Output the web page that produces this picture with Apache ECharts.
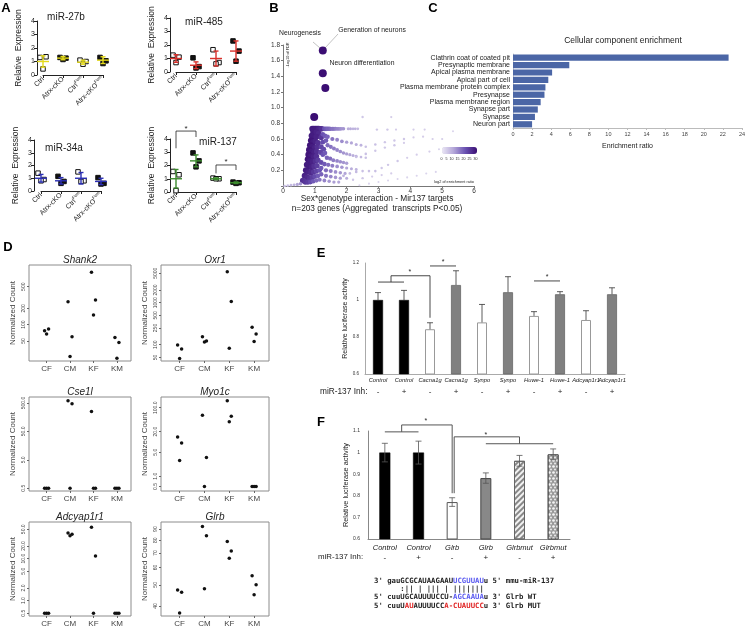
<!DOCTYPE html>
<html>
<head>
<meta charset="utf-8">
<script src="https://cdn.jsdelivr.net/npm/echarts@6/dist/echarts.min.js"></script>
<style>
html, body { margin: 0; padding: 0; background: #fff; }
#chart { width: 748px; height: 629px; }
</style>
</head>
<body>
<div id="chart"></div>
<script>
// ---------- A: miRNA expression (3 replicates per group)
const aGroups = ['Ctrl', 'Atrx-cKO', 'Ctrl{s|Fem}', 'Atrx-cKO{s|Fem}'];
const mir27b = [[1.3, 1.35, 0.45], [1.3, 1.25, 1.15], [1.1, 1.0, 0.8], [1.3, 1.05, 0.85]];
const mir27bMean = [1.0, 1.25, 0.95, 1.1];
const mir27bSd = [0.42, 0.12, 0.15, 0.25];
const mir485 = [[1.25, 1.1, 0.7], [1.05, 0.4, 0.3], [1.65, 0.7, 0.6], [2.3, 1.55, 0.8]];
const mir485Mean = [1.0, 0.5, 1.0, 1.55];
const mir485Sd = [0.28, 0.25, 0.55, 0.75];
const mir34a = [[1.4, 0.9, 0.8], [1.15, 0.75, 0.6], [1.5, 0.8, 0.75], [1.05, 0.6, 0.55]];
const mir34aMean = [1.0, 0.8, 1.0, 0.75];
const mir34aSd = [0.3, 0.25, 0.45, 0.25];
const mir137 = [[1.55, 1.3, 0.1], [2.95, 2.35, 1.9], [1.05, 1.0, 1.0], [0.75, 0.7, 0.65]];
const mir137Mean = [1.0, 2.35, 1.0, 0.7];
const mir137Sd = [0.7, 0.45, 0.07, 0.06];

// ---------- B: GO enrichment (enrichment ratio, -log10 FDR, count)
const bLabelled = [[1.25, 1.73, 30], [1.25, 1.44, 30], [1.33, 1.25, 30], [0.98, 0.88, 30]];
const bCloud = [
  [0.92,0.73,28],[0.97,0.73,28],[1.02,0.73,28],[1.07,0.73,28],[1.12,0.73,27],[1.17,0.73,26],[1.22,0.73,25],
  [0.95,0.69,28],[1.0,0.67,28],[1.05,0.69,27],[1.12,0.67,26],
  [0.9,0.64,28],[0.97,0.62,28],[1.05,0.63,27],[1.2,0.62,24],
  [0.88,0.58,29],[0.95,0.56,28],[1.02,0.57,27],[1.1,0.55,25],
  [0.85,0.52,29],[0.92,0.5,28],[1.0,0.49,27],[1.08,0.5,25],
  [0.82,0.46,29],[0.9,0.44,28],[0.98,0.43,27],[1.06,0.44,25],
  [0.8,0.4,29],[0.88,0.38,28],[0.96,0.37,27],[1.05,0.38,25],
  [0.78,0.34,29],[0.85,0.32,28],[0.93,0.31,27],[1.02,0.32,25],[1.1,0.33,23],
  [0.75,0.27,28],[0.83,0.25,28],[0.9,0.24,27],[0.98,0.25,25],[1.07,0.26,23],
  [0.72,0.2,28],[0.8,0.18,27],[0.88,0.17,26],[0.96,0.18,24],[1.05,0.19,22],[1.15,0.2,20],
  [0.68,0.13,27],[0.76,0.11,26],[0.84,0.1,25],[0.92,0.11,23],[1.0,0.12,21],[1.1,0.13,19],
  [0.62,0.07,25],[0.7,0.05,24],[0.78,0.05,23],[0.86,0.05,21],[0.95,0.06,19],[1.05,0.07,17],
  [0.05,0,6],[0.15,0.005,6],[0.25,0.01,7],[0.35,0.015,8],[0.45,0.02,10],[0.55,0.03,12],
  [1.3,0.73,20],[1.35,0.73,19],[1.4,0.73,18],[1.45,0.73,18],[1.5,0.73,17],[1.55,0.73,16],[1.6,0.73,16],
  [1.65,0.73,15],[1.7,0.73,14],[1.75,0.73,14],[1.8,0.73,13],[1.85,0.73,12],[1.9,0.73,12],
  [2.05,0.73,9],[2.12,0.73,9],[2.2,0.73,8],[2.27,0.73,8],[2.35,0.73,7],
  [2.95,0.72,5],[3.28,0.72,5],[3.55,0.72,4],[4.1,0.72,4],[4.45,0.72,4],
  [2.5,0.88,5],[3.4,0.88,4],
  [1.25,0.66,20],[1.32,0.64,19],[1.4,0.63,18],[1.25,0.56,21],[1.35,0.58,19],
  [1.2,0.5,22],[1.28,0.47,21],[1.18,0.43,22],[1.25,0.4,20],[1.32,0.42,19],
  [1.4,0.52,17],[1.5,0.5,16],[1.6,0.48,15],[1.7,0.46,14],[1.8,0.44,13],[1.9,0.42,12],[2.0,0.41,11],
  [2.1,0.4,10],[2.2,0.39,9],[2.3,0.38,8],[2.45,0.37,7],[2.6,0.36,6],
  [1.38,0.36,18],[1.48,0.35,17],[1.58,0.33,15],[1.7,0.32,14],[1.8,0.31,13],[1.9,0.3,12],[2.0,0.29,11],
  [1.2,0.3,21],[1.3,0.28,19],[1.42,0.27,17],[1.55,0.26,15],[1.7,0.25,13],[1.85,0.24,12],[2.0,0.23,10],
  [2.15,0.22,9],[2.3,0.21,8],
  [1.2,0.23,19],[1.35,0.2,17],[1.5,0.19,15],[1.65,0.18,13],[1.8,0.17,12],[1.95,0.16,10],
  [1.2,0.15,18],[1.35,0.13,16],[1.5,0.12,14],[1.65,0.11,12],[1.8,0.1,11],[2.0,0.1,9],
  [1.15,0.08,16],[1.3,0.07,14],[1.45,0.06,12],[1.6,0.05,11],[1.75,0.05,10],
  [1.55,0.6,16],[1.7,0.59,14],[1.85,0.57,13],[2.0,0.56,11],[2.15,0.55,10],[2.3,0.53,9],[2.45,0.52,8],
  [2.6,0.5,6],[2.9,0.53,6],[3.2,0.56,5],[3.5,0.58,5],[3.8,0.6,5],[4.1,0.62,4],[4.4,0.63,4],[4.7,0.6,4],[5.0,0.6,4],[5.34,0.7,3],
  [2.3,0.37,6],[2.6,0.41,6],[2.9,0.45,5],[3.2,0.49,5],[3.5,0.52,5],[3.8,0.55,4],
  [1.9,0.13,8],[2.1,0.16,7],[2.3,0.18,7],[2.5,0.19,6],[2.7,0.19,6],[2.9,0.19,6],[3.1,0.23,5],[3.3,0.27,5],
  [3.6,0.32,5],[3.9,0.36,4],[4.2,0.4,4],[4.6,0.44,4],[4.9,0.47,3],
  [2.2,0.08,5],[2.5,0.1,5],[2.8,0.12,4],[3.1,0.14,4],[3.4,0.16,4],
  [2.4,0.01,3],[2.7,0.03,3],[3.0,0.05,3],[3.3,0.07,3],[3.6,0.09,3],[3.9,0.11,3],[4.2,0.13,3],[4.5,0.16,3],[4.8,0.18,3]
];

// ---------- C: cellular component enrichment
const cTerms = ['Clathrin coat of coated pit', 'Presynaptic membrane', 'Apical plasma membrane', 'Apical part of cell',
  'Plasma membrane protein complex', 'Presynapse', 'Plasma membrane region', 'Synapse part', 'Synapse', 'Neuron part'];
const cRatio = [22.6, 5.9, 4.1, 3.7, 3.4, 3.3, 2.9, 2.6, 2.3, 2.0];

// ---------- D: normalized counts per group (3 samples)
const dGroups = ['CF', 'CM', 'KF', 'KM'];
const shank2 = [[77, 83, 67], [265, 60, 26], [920, 285, 151], [58, 47, 24]];
const oxr1 = [[98, 79, 47], [155, 122, 116], [5480, 1060, 82], [260, 180, 120]];
const cse1l = [[0.5, 0.5, 0.5], [600, 470, 0.5], [250, 0.5, 0.5], [0.5, 0.5, 0.5]];
const myo1c = [[14, 9.4, 2.9], [60, 3.5, 0.5], [161, 56, 39], [0.5, 0.5, 0.5]];
const adcyap1r1 = [[0.5, 0.5, 0.5], [41, 38, 35], [56, 11.6, 0.5], [0.5, 0.5, 0.5]];
const glrb = [[47.3, 46.2, 37.2], [92.6, 84, 48], [78.9, 71.4, 66.1], [55, 50, 45]];
const shank2Ticks = [50, 100, 200, 500];
const oxr1Ticks = [50, 100, 250, 500, 1000, 2000, 5000];
const cse1lTicks = [0.5, 5, 50, 500];
const myo1cTicks = [0.5, 1, 5, 20, 100];
const adcyap1r1Ticks = [0.5, 1, 2, 5, 10, 20, 50];
const glrbTicks = [40, 50, 60, 70, 80, 90];

// ---------- E: luciferase, miR-137 inhibitor
const eLabels = ['Control', 'Control', 'Cacna1g', 'Cacna1g', 'Synpo', 'Synpo', 'Huwe-1', 'Huwe-1', 'Adcyap1r1', 'Adcyap1r1'];
const eInh = ['-', '+', '-', '+', '-', '+', '-', '+', '-', '+'];
const eValue = [1.0, 1.0, 0.842, 1.081, 0.879, 1.042, 0.914, 1.031, 0.892, 1.031];
const eErr = [0.04, 0.052, 0.035, 0.077, 0.097, 0.084, 0.023, 0.014, 0.05, 0.035];

// ---------- F: luciferase, Glrb 3'UTR
const fLabels = ['Control', 'Control', 'Glrb', 'Glrb', 'Glrbmut', 'Glrbmut'];
const fInh = ['-', '+', '-', '+', '-', '+'];
const fValue = [1.0, 1.0, 0.771, 0.882, 0.962, 0.992];
const fErr = [0.043, 0.053, 0.02, 0.024, 0.025, 0.025];

const FONT = '"Liberation Sans", Arial, sans-serif';
const MONO = '"DejaVu Sans Mono", monospace';

const chart = echarts.init(document.getElementById('chart'));

const grids = [], xAxes = [], yAxes = [], series = [], graphics = [];

function text(x, y, s, size, opts) {
  const o = opts || {};
  return {
    type: 'text', x: x, y: y, rotation: o.rotation || 0, silent: true,
    style: {
      text: s, fill: o.color || '#222',
      font: (o.style || '') + ' ' + (o.weight || 'normal') + ' ' + size + 'px ' + (o.family || FONT),
      textAlign: o.align || 'center', textVerticalAlign: 'middle', rich: o.rich
    }
  };
}

// bracket points may sit between categories: interpolate between neighbours
function pt(api, p) {
  const i0 = Math.floor(p[0]), t = p[0] - i0;
  const a = api.coord([i0, p[1]]);
  if (t === 0) return a;
  const b = api.coord([i0 + 1, p[1]]);
  return [a[0] + (b[0] - a[0]) * t, a[1]];
}

function bracketSeries(ax, lines, stars, color, lw, starSize) {
  return {
    type: 'custom', xAxisIndex: ax, yAxisIndex: ax, z: 6, silent: true, clip: false,
    data: [[0, lines[0][0][1]]],
    renderItem: function (params, api) {
      const children = lines.map(l => ({
        type: 'polyline', shape: { points: l.map(p => pt(api, p)) },
        style: { stroke: color, lineWidth: lw, fill: null }
      }));
      stars.forEach(s => {
        const c = pt(api, s);
        children.push({ type: 'text', x: c[0], y: c[1],
          style: { text: '*', fill: '#222', font: starSize + 'px ' + FONT, textAlign: 'center', textVerticalAlign: 'middle' } });
      });
      return { type: 'group', children: children };
    }
  };
}

function errSeries(ax, means, errs, o) {
  return {
    type: 'custom', xAxisIndex: ax, yAxisIndex: ax, z: 5, silent: true,
    data: means.map((m, i) => [i, m, errs[i]]),
    renderItem: function (params, api) {
      const i = api.value(0), m = api.value(1), e = api.value(2);
      const top = api.coord([i, m + e]);
      const bot = api.coord([i, o.upOnly ? m : m - e]);
      const st = { stroke: o.color, lineWidth: o.lw };
      const ch = [
        { type: 'line', shape: { x1: top[0], y1: top[1], x2: bot[0], y2: bot[1] }, style: st },
        { type: 'line', shape: { x1: top[0] - o.cap, y1: top[1], x2: top[0] + o.cap, y2: top[1] }, style: st }
      ];
      if (!o.upOnly) ch.push({ type: 'line', shape: { x1: bot[0] - o.cap, y1: bot[1], x2: bot[0] + o.cap, y2: bot[1] }, style: st });
      if (o.mean) {
        const c = api.coord([i, m]);
        ch.push({ type: 'line', shape: { x1: c[0] - o.mean, y1: c[1], x2: c[0] + o.mean, y2: c[1] }, style: st });
      }
      return { type: 'group', children: ch };
    }
  };
}

// ================= A
const aPanels = [
  { name: 'miR-27b', color: '#e4da1a', pts: mir27b, mean: mir27bMean, sd: mir27bSd, grid: { left: 43, top: 21, width: 60, height: 54 }, off: 6, title: [66, 17] },
  { name: 'miR-485', color: '#d9302b', pts: mir485, mean: mir485Mean, sd: mir485Sd, grid: { left: 176, top: 18, width: 60, height: 54 }, off: 6, title: [204, 22] },
  { name: 'miR-34a', color: '#2b2fb5', pts: mir34a, mean: mir34aMean, sd: mir34aSd, grid: { left: 41, top: 140, width: 60, height: 51 }, off: 7, title: [64, 148] },
  { name: 'miR-137', color: '#3d8b2e', pts: mir137, mean: mir137Mean, sd: mir137Sd, grid: { left: 176, top: 139, width: 60, height: 53 }, off: 6, title: [218, 142] }
];
const jit = [[-3, 0], [3, 0], [0, 0]];
aPanels.forEach(p => {
  const k = grids.length;
  grids.push(p.grid);
  xAxes.push({
    gridIndex: k, type: 'category', data: aGroups, boundaryGap: false,
    axisLine: { lineStyle: { color: '#222', width: 1 } },
    axisTick: { show: true, length: 3, lineStyle: { color: '#222' } },
    axisLabel: { rotate: 45, fontSize: 7, color: '#222', margin: 3, interval: 0, fontFamily: FONT,
      rich: { s: { fontSize: 4.5, padding: [0, 0, 5, 0], fontFamily: FONT, color: '#222' } } }
  });
  yAxes.push({
    gridIndex: k, type: 'value', min: 0, max: 4, interval: 1, offset: p.off,
    axisLine: { show: true, lineStyle: { color: '#222', width: 1 } },
    axisTick: { show: true, length: 3, lineStyle: { color: '#222' } },
    axisLabel: { fontSize: 7, color: '#222', margin: 2, fontFamily: FONT },
    splitLine: { show: false },
    name: 'Relative  Expression', nameLocation: 'middle', nameGap: 14,
    nameTextStyle: { fontSize: 8.5, color: '#222', fontFamily: FONT }
  });
  for (let r = 0; r < 3; r++) {
    series.push({
      type: 'scatter', xAxisIndex: k, yAxisIndex: k, symbol: 'rect', symbolSize: 4.5, symbolOffset: jit[r], z: 3,
      data: p.pts.map(g => g[r]),
      itemStyle: { color: params => (params.dataIndex % 2 ? '#111' : '#fff'), borderColor: '#111', borderWidth: 1, opacity: 1 }
    });
  }
  series.push(errSeries(k, p.mean, p.sd, { color: p.color, lw: 1.4, cap: 2.5, mean: 6 }));
  graphics.push(text(p.title[0], p.title[1], p.name, 10));
});
series.push(bracketSeries(3, [
  [[0, 3.3], [0, 4.6], [1, 4.6], [1, 4.15]],
  [[2, 1.4], [2, 2.04], [3, 2.04], [3, 1.66]]
], [[0.5, 4.75], [2.5, 2.25]], '#222', 0.8, 8));

// ================= B
const bIdx = grids.length;
grids.push({ left: 283, top: 45, width: 191, height: 141 });
xAxes.push({
  gridIndex: bIdx, type: 'value', min: 0, max: 6, interval: 1,
  axisLine: { lineStyle: { color: '#777' } }, axisTick: { length: 2, lineStyle: { color: '#777' } },
  axisLabel: { fontSize: 6.5, color: '#333', margin: 2, fontFamily: FONT }, splitLine: { show: false }
});
yAxes.push({
  gridIndex: bIdx, type: 'value', min: 0, max: 1.8, interval: 0.2,
  axisLine: { show: true, lineStyle: { color: '#777' } }, axisTick: { show: true, length: 2, lineStyle: { color: '#777' } },
  axisLabel: { fontSize: 6.5, color: '#333', margin: 3, fontFamily: FONT, formatter: v => (v === 0 ? '' : v.toFixed(1)) },
  splitLine: { show: false }
});
const bCloudSeries = series.length;
series.push({
  type: 'scatter', xAxisIndex: bIdx, yAxisIndex: bIdx, z: 2, data: bCloud,
  symbolSize: v => 1.6 + v[2] * 0.16, itemStyle: { opacity: 1 }
});
series.push({
  type: 'scatter', xAxisIndex: bIdx, yAxisIndex: bIdx, z: 3, data: bLabelled, symbolSize: 8, itemStyle: { opacity: 1 }
});
graphics.push(text(300, 33, 'Neurogenesis', 6.8));
graphics.push(text(372, 30, 'Generation of neurons', 6.8));
graphics.push(text(362, 63, 'Neuron differentiation', 6.8));
graphics.push({ type: 'line', silent: true, shape: { x1: 313, y1: 42, x2: 320, y2: 48 }, style: { stroke: '#999', lineWidth: 0.6 } });
graphics.push({ type: 'line', silent: true, shape: { x1: 338, y1: 34, x2: 325, y2: 48 }, style: { stroke: '#999', lineWidth: 0.6 } });
graphics.push(text(287.5, 55, '-Log10 of FDR', 3.8, { rotation: Math.PI / 2 }));
graphics.push(text(459, 159, '0   5  10  15  20  25  30', 3.6));
graphics.push(text(454, 182, 'log2 of enrichment ratio', 3.8));
graphics.push(text(377, 199, 'Sex*genotype interaction - Mir137 targets', 8.3));
graphics.push(text(377, 209, 'n=203 genes (Aggregated  transcripts P<0.05)', 8.3));

// ================= C
const cIdx = grids.length;
grids.push({ left: 513, top: 54, width: 230, height: 74 });
xAxes.push({
  gridIndex: cIdx, type: 'value', min: 0, max: 24, interval: 2,
  axisLine: { show: true, lineStyle: { color: '#bbb' } }, axisTick: { show: true, length: 2, lineStyle: { color: '#bbb' } },
  axisLabel: { fontSize: 5.5, color: '#444', margin: 3, fontFamily: FONT }, splitLine: { show: false },
  name: 'Enrichment ratio', nameLocation: 'middle', nameGap: 15, nameTextStyle: { fontSize: 7, color: '#222', fontFamily: FONT }
});
yAxes.push({
  gridIndex: cIdx, type: 'category', data: cTerms, inverse: true,
  axisLine: { show: true, lineStyle: { color: '#ccc' } }, axisTick: { show: false },
  axisLabel: { fontSize: 7, color: '#222', margin: 3, interval: 0, fontFamily: FONT }
});
series.push({
  type: 'bar', xAxisIndex: cIdx, yAxisIndex: cIdx, data: cRatio, barCategoryGap: '16%',
  itemStyle: { color: '#4b66a6' }
});
graphics.push(text(623, 41, 'Cellular component enrichment', 8.5));

// ================= D
const dPlots = [
  { gene: 'Shank2', pts: shank2, ticks: shank2Ticks, range: [21.4, 1257], dec: 0, box: { left: 29, top: 265, width: 102, height: 96 } },
  { gene: 'Oxr1', pts: oxr1, ticks: oxr1Ticks, range: [41, 7880], dec: 0, box: { left: 161, top: 265, width: 108, height: 96 } },
  { gene: 'Cse1l', pts: cse1l, ticks: cse1lTicks, range: [0.4, 815], dec: 1, box: { left: 29, top: 397, width: 102, height: 94 } },
  { gene: 'Myo1c', pts: myo1c, ticks: myo1cTicks, range: [0.37, 206], dec: 1, box: { left: 161, top: 397, width: 108, height: 94 } },
  { gene: 'Adcyap1r1', pts: adcyap1r1, ticks: adcyap1r1Ticks, range: [0.43, 74.5], dec: 1, box: { left: 29, top: 522, width: 102, height: 94 } },
  { gene: 'Glrb', pts: glrb, ticks: glrbTicks, range: [36, 97], dec: 0, box: { left: 161, top: 522, width: 108, height: 94 } }
];
const dJit = [[-2, 0], [2, 0], [0, 0]];
dPlots.forEach(p => {
  const k = grids.length;
  grids.push(Object.assign({ show: true, borderColor: '#8c8c8c', borderWidth: 1, backgroundColor: 'transparent' }, p.box));
  xAxes.push({
    gridIndex: k, type: 'value', min: 0.25, max: 4.6,
    axisLine: { show: false }, splitLine: { show: false },
    axisTick: { show: true, length: 2, customValues: [1, 2, 3, 4], lineStyle: { color: '#666' } },
    axisLabel: { customValues: [1, 2, 3, 4], formatter: v => dGroups[Math.round(v) - 1], fontSize: 8, color: '#444', margin: 4, fontFamily: FONT }
  });
  yAxes.push({
    gridIndex: k, type: 'log', logBase: 10, min: p.range[0], max: p.range[1],
    axisLine: { show: false }, splitLine: { show: false },
    axisTick: { show: true, length: 2, customValues: p.ticks, lineStyle: { color: '#666' } },
    axisLabel: { customValues: p.ticks, rotate: 90, fontSize: 5, color: '#444', margin: 3, fontFamily: FONT,
      formatter: v => v.toFixed(p.dec) },
    name: 'Normalized Count', nameLocation: 'middle', nameGap: 12,
    nameTextStyle: { fontSize: 8, color: '#444', fontFamily: FONT }
  });
  for (let r = 0; r < 3; r++) {
    series.push({
      type: 'scatter', xAxisIndex: k, yAxisIndex: k, symbolSize: 3.5, symbolOffset: dJit[r],
      data: p.pts.map((g, gi) => [gi + 1, g[r]]), itemStyle: { color: '#111', opacity: 1 }
    });
  }
  graphics.push(text(p.box.left + p.box.width / 2, p.box.top - 5, p.gene, 10, { style: 'italic' }));
});

// ================= E
const eIdx = grids.length;
grids.push({ left: 365, top: 263, width: 260, height: 111 });
xAxes.push({
  gridIndex: eIdx, type: 'category', data: eLabels,
  axisLine: { lineStyle: { color: '#aaa' } }, axisTick: { show: false },
  axisLabel: { fontSize: 5.8, fontStyle: 'italic', color: '#222', margin: 3, interval: 0, fontFamily: FONT }
});
yAxes.push({
  gridIndex: eIdx, type: 'value', min: 0.6, max: 1.2, interval: 0.2,
  axisLine: { show: true, lineStyle: { color: '#aaa' } }, axisTick: { show: false },
  axisLabel: { fontSize: 4.5, color: '#333', margin: 6, fontFamily: FONT, formatter: v => String(Math.round(v * 10) / 10) },
  splitLine: { show: false },
  name: 'Relative luciferase activity', nameLocation: 'middle', nameGap: 14,
  nameTextStyle: { fontSize: 7, color: '#222', fontFamily: FONT }
});
function eStyle(i) {
  if (i < 2) return { color: '#000', borderColor: '#000', borderWidth: 0.5 };
  if (i % 2 === 0) return { color: '#fff', borderColor: '#999', borderWidth: 1 };
  return { color: '#808080', borderColor: '#666', borderWidth: 0.8 };
}
series.push({
  type: 'bar', xAxisIndex: eIdx, yAxisIndex: eIdx, barWidth: 10, z: 2,
  data: eValue.map((v, i) => ({ value: v, itemStyle: eStyle(i) }))
});
series.push(errSeries(eIdx, eValue, eErr, { color: '#333', lw: 0.8, cap: 3, upOnly: true }));
series.push(bracketSeries(eIdx, [
  [[0, 1.097], [1, 1.097]],
  [[0.5, 1.097], [0.5, 1.131], [2, 1.131], [2, 0.904]],
  [[2, 1.184], [3, 1.184]],
  [[6, 1.103], [7, 1.103]]
], [[1.23, 1.15], [2.5, 1.205], [6.5, 1.125]], '#333', 0.9, 7));

// ================= F
const fIdx = grids.length;
grids.push({ left: 368, top: 431, width: 202, height: 108 });
xAxes.push({
  gridIndex: fIdx, type: 'category', data: fLabels,
  axisLine: { lineStyle: { color: '#888' } }, axisTick: { show: false },
  axisLabel: { fontSize: 7.5, fontStyle: 'italic', color: '#222', margin: 5, interval: 0, fontFamily: FONT }
});
yAxes.push({
  gridIndex: fIdx, type: 'value', min: 0.6, max: 1.1, interval: 0.1,
  axisLine: { show: true, lineStyle: { color: '#888' } }, axisTick: { show: false },
  axisLabel: { fontSize: 5, color: '#333', margin: 8, fontFamily: FONT, formatter: v => String(Math.round(v * 10) / 10) },
  splitLine: { show: false },
  name: 'Relative luciferase activity', nameLocation: 'middle', nameGap: 17,
  nameTextStyle: { fontSize: 7.3, color: '#222', fontFamily: FONT }
});
function fStyle(i) {
  if (i < 2) return { color: '#000', borderColor: '#000', borderWidth: 0.5 };
  if (i === 2) return { color: '#fff', borderColor: '#555', borderWidth: 1 };
  if (i === 3) return { color: '#888', borderColor: '#444', borderWidth: 1 };
  if (i === 4) return { color: '#f2f2f2', borderColor: '#666', borderWidth: 1,
    decal: { symbol: 'rect', symbolSize: 1, color: '#888', dashArrayX: [1, 0], dashArrayY: [1.2, 1.6], rotation: -Math.PI / 4 } };
  return { color: '#9a9a9a', borderColor: '#555', borderWidth: 1,
    decal: { symbol: 'circle', symbolSize: 0.9, color: '#f4f4f4', dashArrayX: [[3, 1], [0, 2, 2, 0]], dashArrayY: [3, 0] } };
}
series.push({
  type: 'bar', xAxisIndex: fIdx, yAxisIndex: fIdx, barWidth: 11, z: 2,
  data: fValue.map((v, i) => ({ value: v, itemStyle: fStyle(i) }))
});
series.push(errSeries(fIdx, fValue, fErr, { color: '#555', lw: 0.8, cap: 3 }));
series.push(bracketSeries(fIdx, [
  [[0, 1.096], [1, 1.096]],
  [[0.5, 1.096], [0.5, 1.128], [2, 1.128], [2, 0.812]],
  [[2.06, 0.812], [2.06, 1.073], [4, 1.073], [4, 1.041]],
  [[3, 1.041], [5, 1.041]]
], [[1.22, 1.145], [3, 1.083]], '#555', 1, 7));

// +/- rows under E and F
[[eIdx, eInh], [fIdx, fInh]].forEach(r => {
  xAxes.push({
    gridIndex: r[0], type: 'category', data: r[1], position: 'bottom', offset: r[0] === eIdx ? 11 : 12,
    axisLine: { show: false }, axisTick: { show: false },
    axisLabel: { fontSize: 8, color: '#222', margin: 3, interval: 0, fontFamily: FONT }
  });
});
graphics.push(text(320, 392, 'miR-137 Inh:', 8.3, { align: 'left' }));
graphics.push(text(318, 557, 'miR-137 Inh:', 7.9, { align: 'left' }));

// sequence alignment
const seqFont = 'bold 7.3px ' + MONO;
const seqRich = {
  k: { font: seqFont, fill: '#222' },
  b: { font: seqFont, fill: '#5a5af0' },
  r: { font: seqFont, fill: '#e02424' }
};
const seqOpt = { align: 'left', family: MONO, weight: 'bold', rich: seqRich };
graphics.push(text(374, 581, "{k|3' gauGCGCAUAAGAAU}{b|UCGUUAU}{k|u 5' mmu-miR-137}", 7.3, seqOpt));
graphics.push(text(374, 589, "      :|| | ||| | |||||||", 7.3, { align: 'left', family: MONO, weight: 'bold' }));
graphics.push(text(374, 597, "{k|5' cuuUGCAUUUUCCU-}{b|AGCAAUA}{k|u 3' Glrb WT}", 7.3, seqOpt));
graphics.push(text(374, 606, "{k|5' cuuU}{r|AU}{k|AUUUUCC}{r|A-CUAUUCC}{k|u 3' Glrb MUT}", 7.3, seqOpt));

// panel letters
[['A', 6, 8], ['B', 274, 8], ['C', 433, 8], ['D', 8, 247], ['E', 321, 253], ['F', 321, 422]].forEach(l => {
  graphics.push(text(l[1], l[2], l[0], 13, { weight: 'bold', color: '#000' }));
});

chart.setOption({
  animation: false,
  backgroundColor: '#fff',
  textStyle: { fontFamily: FONT },
  grid: grids,
  xAxis: xAxes,
  yAxis: yAxes,
  visualMap: {
    type: 'continuous', seriesIndex: [bCloudSeries, bCloudSeries + 1], dimension: 2, min: 0, max: 30,
    orient: 'horizontal', left: 442, top: 147, itemWidth: 7, itemHeight: 35, padding: 0,
    calculable: false, hoverLink: false, text: null,
    inRange: { color: ['#ebe7f5', '#b3a6d8', '#6a52b2', '#3b0e73'] }
  },
  graphic: graphics,
  series: series
});
</script>
</body>
</html>
